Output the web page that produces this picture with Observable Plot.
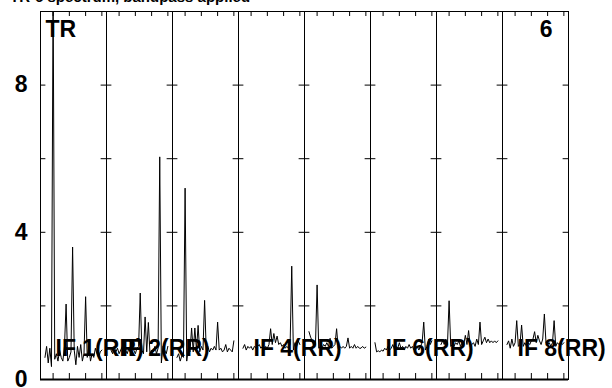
<!DOCTYPE html>
<html><head><meta charset="utf-8">
<script src="https://cdn.jsdelivr.net/npm/d3@7"></script>
<script src="https://cdn.jsdelivr.net/npm/@observablehq/plot@0.6"></script>
<style>body{margin:0;background:#fff} svg{display:block}</style>
</head><body><div id="chart"></div>
<script>
const panels = [1, 2, 3, 4, 5, 6, 7, 8];
const channels = d3.range(5, 41);
const if1 = [0.6,0.9,0.45,0.85,0.35,10.6,0.55,0.7,0.5,0.8,0.6,0.5,0.9,2.05,0.5,0.6,0.75,3.6,0.8,0.4,0.9,0.6,0.95,0.5,0.7,2.25,0.6,0.9,0.5,0.7,0.6,0.85,0.7,0.6,0.75,0.8];
const if2 = [0.8,0.7,0.9,0.75,0.85,0.7,0.8,0.9,0.75,0.8,0.7,0.85,0.75,0.9,0.8,0.7,0.85,0.9,2.35,0.8,0.7,1.7,0.75,1.55,0.7,0.8,0.75,0.9,0.7,0.85,6.05,0.45,0.9,0.8,0.7,0.9];
const if3 = [0.6,0.7,0.5,0.65,0.6,5.2,0.5,0.85,0.75,1.4,0.75,1.4,0.8,1.47,0.75,0.9,0.8,2.15,0.8,0.9,0.75,0.85,0.8,0.9,0.8,1.56,0.8,0.85,0.75,0.8,0.95,0.75,0.85,0.8,0.75,1.05];
const if4 = [0.85,0.95,0.8,0.9,0.85,0.9,0.8,0.9,0.85,0.9,0.95,0.85,0.9,0.8,0.9,0.85,0.95,1.38,0.95,1.25,1.0,1.18,0.95,1.0,0.9,0.95,0.85,0.9,0.85,0.95,3.08,0.8,1.0,0.9,1.05,0.95];
const if5 = [1.3,1.15,1.05,0.9,0.95,2.57,0.85,0.9,0.85,0.95,0.9,1.0,0.9,1.12,0.85,0.9,0.95,1.38,0.85,0.9,0.85,0.9,0.85,0.9,1.13,0.85,0.9,0.85,0.95,0.85,0.9,0.85,0.85,0.9,0.85,0.88];
const if6 = [1.0,0.75,0.78,0.75,0.8,0.77,0.85,0.8,0.9,0.8,0.85,0.95,0.8,0.9,0.85,1.0,0.85,0.9,0.8,0.9,0.85,0.95,0.85,0.9,0.8,0.85,0.9,0.8,0.9,1.0,1.56,0.8,0.9,1.1,0.95,1.05];
const if7 = [0.95,1.05,0.95,1.1,0.95,2.14,0.9,0.95,0.9,1.0,0.95,1.05,0.9,1.0,0.95,1.2,0.95,1.33,0.9,0.95,1.0,0.9,1.1,0.95,1.56,0.95,1.05,1.15,1.0,1.1,1.0,1.05,1.0,1.05,1.0,1.05];
const if8 = [0.95,1.05,0.85,1.1,0.9,1.0,1.6,0.9,0.95,1.48,0.9,1.0,0.9,1.0,0.95,1.05,1.1,1.3,1.0,1.2,1.05,0.95,1.1,1.78,1.0,0.95,1.0,0.9,1.0,1.6,0.9,1.0,0.95,1.0,0.95,1.0];
const series = [if1, if2, if3, if4, if5, if6, if7, if8];
const labelPanels = [1, 2, 4, 6, 8];
const labelTexts = ["IF 1(RR)", "IF 2(RR)", "IF 4(RR)", "IF 6(RR)", "IF 8(RR)"];
const cornerLeft = "TR";
const cornerRight = "6";
const yTickLabels = [0, 4, 8];
const yTicks = [2, 4, 6, 8];
const xTicks = [10, 20, 30, 40];
const title = "TR-6 spectrum, bandpass applied";

const rows = [];
series.forEach((s, p) => s.forEach((v, i) => rows.push({panel: panels[p], ch: channels[i], v})));
const labels = labelPanels.map((p, i) => ({panel: p, text: labelTexts[i]}));

const W = 612, H = 388, mL = 37, mR = 42, mT = 11, mB = 9;
const fw = (W - mL - mR) / panels.length, fh = H - mT - mB;

const plot = Plot.plot({
  width: W, height: H,
  marginLeft: mL, marginRight: mR, marginTop: mT, marginBottom: mB,
  style: {fontFamily: "'Liberation Sans', Arial, sans-serif", background: "white", color: "black"},
  x: {domain: [2.25, 42.85], axis: null},
  y: {domain: [0, 10]},
  fx: {domain: panels, padding: 0, axis: null},
  marks: [
    Plot.frame({stroke: "black", strokeWidth: 1}),
    Plot.ruleY([0], {stroke: "black", strokeWidth: 2}),
    Plot.tickX(xTicks, {x: d => d, insetTop: fh - 6, stroke: "black"}),
    Plot.tickX(xTicks, {x: d => d, insetBottom: fh - 5, stroke: "black"}),
    Plot.tickY(yTicks, {y: d => d, insetRight: fw - 6, stroke: "black"}),
    Plot.tickY(yTicks, {y: d => d, insetLeft: fw - 6, stroke: "black"}),
    Plot.line(rows, {x: "ch", y: "v", fx: "panel", stroke: "black", strokeWidth: 1, clip: true}),
    Plot.axisY({ticks: yTickLabels, tickSize: 0, tickPadding: 13, fontSize: 23, fontWeight: "bold", label: null}),
    Plot.text(labels, {fx: "panel", text: "text", frameAnchor: "bottom-left", lineAnchor: "middle", textAnchor: "start", dx: 15, dy: -31, fontSize: 23, fontWeight: "bold", fill: "black"}),
    Plot.text([{panel: 1, text: cornerLeft}], {fx: "panel", text: "text", frameAnchor: "top-left", lineAnchor: "middle", textAnchor: "start", dx: 5, dy: 18, fontSize: 23, fontWeight: "bold", fill: "black"}),
    Plot.text([{panel: 8, text: cornerRight}], {fx: "panel", text: "text", frameAnchor: "top-right", lineAnchor: "middle", textAnchor: "end", dx: -16, dy: 18, fontSize: 23, fontWeight: "bold", fill: "black"})
  ]
});
d3.select(plot).append("text")
  .attr("x", 10).attr("y", 2)
  .attr("text-anchor", "start")
  .attr("font-size", 15).attr("font-weight", "bold")
  .attr("font-family", "'Liberation Sans', Arial, sans-serif")
  .attr("fill", "black")
  .text(title);
document.getElementById("chart").appendChild(plot);
</script>
</body></html>
